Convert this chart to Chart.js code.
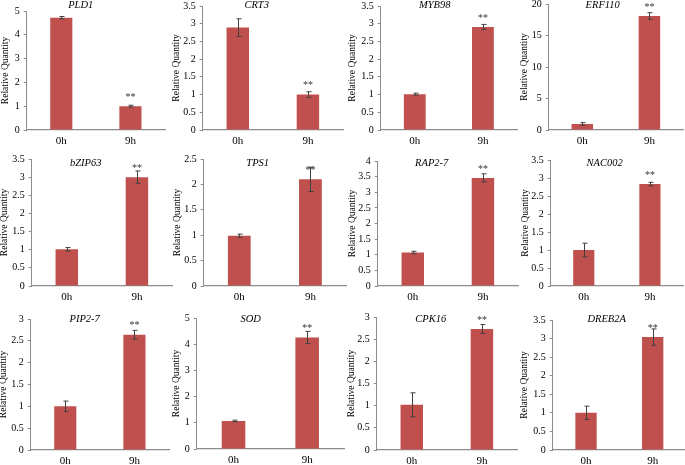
<!DOCTYPE html>
<html>
<head>
<meta charset="utf-8">
<script src="https://cdn.jsdelivr.net/npm/chart.js@4"></script>
<style>
  html,body{margin:0;padding:0;background:#fff;}
  #wrap{position:relative;width:685px;height:465px;overflow:hidden;}
  #wrap canvas{position:absolute;}
</style>
</head>
<body>
<div id="wrap"></div>
<script>
// données (qPCR, 0h vs 9h)
const genes = ['PLD1','CRT3','MYB98','ERF110','bZIP63','TPS1','RAP2-7','NAC002','PIP2-7','SOD','CPK16','DREB2A'];
const categories = ['0h','9h'];
const mean0h = [4.72, 2.89, 1.01, 0.97, 1.01, 0.99, 1.07, 1.00, 1.00, 1.07, 1.02, 1.00];
const mean9h = [1.00, 1.00, 2.91, 18.1, 3.00, 2.10, 3.46, 2.83, 2.64, 4.26, 2.73, 3.04];
const err0h  = [0.05, 0.25, 0.03, 0.20, 0.05, 0.03, 0.04, 0.19, 0.12, 0.03, 0.27, 0.18];
const err9h  = [0.04, 0.08, 0.07, 0.52, 0.17, 0.24, 0.13, 0.05, 0.10, 0.23, 0.10, 0.22];
const yMax   = [5, 3.5, 3.5, 20, 3.5, 2.5, 4, 3.5, 3, 5, 3, 3.5];
const yStep  = [1, 0.5, 0.5, 5, 0.5, 0.5, 0.5, 0.5, 0.5, 1, 0.5, 0.5];
const stars0h = ['', '', '', '', '', '', '', '', '', '', '', ''];
const stars9h = ['**','**','**','**','**','**','**','**','**','**','**','**'];

// mise en page : [gauche axe, haut, bas, droite] en px de la page
const boxes = [
  [27,11,130,165],[203,6,130,343],[381,6,130,517],[549,4,130,683],
  [32,159,286,172],[204,159,286,346],[378,161,286,518],[551,160,286,683],
  [31,319,450,169],[197,318,449,344],[377,317,450,517],[553,320,450,686]
];
const titleRowY = [5.5, 163, 319.5];
const yTitleGap = [21,26,28,24,27,26,25,25,27,20,25,28];

const BAR = '#C0504D', AXIS = '#8c8c8c', ERR = '#404040';
const PT = 14, XH = 22;
Chart.defaults.font.family = '"Liberation Serif","Times New Roman",serif';
Chart.defaults.color = '#000';

// barres d'erreur + étoiles + titre du gène
const extras = {
  id: 'extras',
  afterDatasetsDraw(chart, args, o) {
    const {ctx, scales:{y}} = chart;
    const bars = chart.getDatasetMeta(0).data;
    ctx.save();
    ctx.strokeStyle = ERR; ctx.lineWidth = 1;
    bars.forEach((b, i) => {
      const m = o.means[i], e = o.errs[i];
      const x = Math.round(b.x) + 0.5;
      const yt = y.getPixelForValue(m + e), yb = y.getPixelForValue(m - e);
      ctx.beginPath();
      ctx.moveTo(x, yt); ctx.lineTo(x, yb);
      ctx.moveTo(x - 2, yt); ctx.lineTo(x + 3, yt);
      ctx.moveTo(x - 2, yb); ctx.lineTo(x + 3, yb);
      ctx.stroke();
      if (o.stars[i]) {
        ctx.fillStyle = '#333';
        ctx.font = '10px "Liberation Serif"';
        ctx.textAlign = 'center'; ctx.textBaseline = 'middle';
        ctx.fillText(o.stars[i], b.x, y.getPixelForValue(m) - 9);
      }
    });
    ctx.fillStyle = '#000';
    ctx.font = 'italic 10.5px "Liberation Serif"';
    ctx.textAlign = 'center'; ctx.textBaseline = 'middle';
    ctx.fillText(o.title, chart.chartArea.left + 54, o.titleY);
    ctx.restore();
  }
};

const wrap = document.getElementById('wrap');
genes.forEach((g, i) => {
  const [L, T, B, R] = boxes[i];
  const YW = yTitleGap[i] + 5.7;
  const cv = document.createElement('canvas');
  const w = Math.round(R - L + YW + 2), h = B - T + PT + XH;
  cv.width = w; cv.height = h;
  cv.style.width = w + 'px'; cv.style.height = h + 'px';
  const left = L - YW, top = T - PT;
  cv.style.left = left + 'px'; cv.style.top = top + 'px';
  wrap.appendChild(cv);

  new Chart(cv, {
    type: 'bar',
    data: { labels: categories, datasets: [{
      data: [mean0h[i], mean9h[i]],
      backgroundColor: BAR, borderWidth: 0,
      barPercentage: 0.32, categoryPercentage: 1.0
    }]},
    options: {
      responsive: false, animation: false, devicePixelRatio: 1,
      layout: { padding: { left: 0, top: PT, right: 2, bottom: 0 } },
      plugins: {
        legend: { display: false }, tooltip: { enabled: false },
        extras: {
          means: [mean0h[i], mean9h[i]], errs: [err0h[i], err9h[i]],
          stars: [stars0h[i], stars9h[i]], title: g,
          titleY: titleRowY[Math.floor(i / 4)] - top
        }
      },
      scales: {
        x: {
          grid: { display: false, drawTicks: false },
          border: { display: true, color: AXIS, width: 1.2 },
          ticks: { padding: 5, font: { size: 11 } },
          afterFit: s => { s.height = XH; }
        },
        y: {
          min: 0, max: yMax[i],
          ticks: { stepSize: yStep[i], padding: 4, font: { size: 10 },
                   callback: v => String(+v.toFixed(2)) },
          grid: { drawOnChartArea: false, tickLength: 3, color: AXIS },
          border: { display: true, color: AXIS, width: 1 },
          title: { display: true, text: 'Relative Quantity', padding: 0,
                   font: { size: 9.5, lineHeight: 1.2 } },
          afterFit: s => { s.width = YW; }
        }
      }
    },
    plugins: [extras]
  });
});
</script>
</body>
</html>
